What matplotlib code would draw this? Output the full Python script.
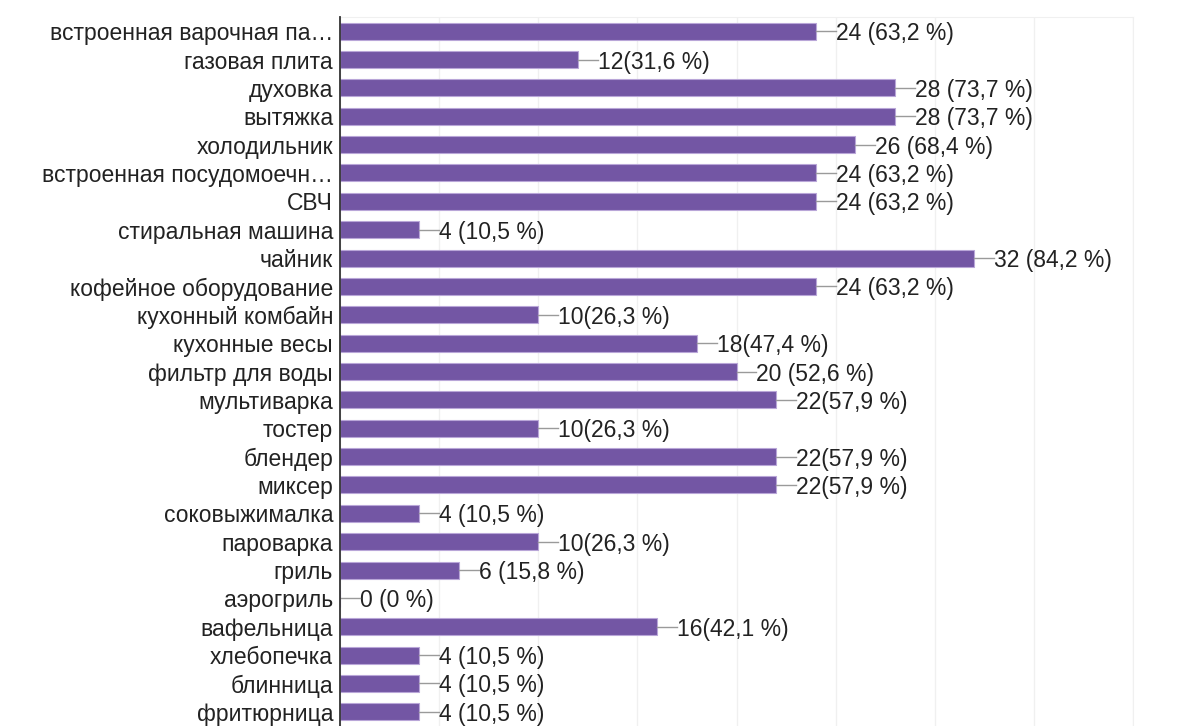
import numpy as np
import matplotlib
matplotlib.use("Agg")
import matplotlib.pyplot as plt

plt.rcParams['font.family'] = ['Liberation Sans', 'DejaVu Sans']

items = ["встроенная варочная па…", "газовая плита", "духовка", "вытяжка",
         "холодильник", "встроенная посудомоечн…", "СВЧ", "стиральная машина",
         "чайник", "кофейное оборудование", "кухонный комбайн", "кухонные весы",
         "фильтр для воды", "мультиварка", "тостер", "блендер", "миксер",
         "соковыжималка", "пароварка", "гриль", "аэрогриль", "вафельница",
         "хлебопечка", "блинница", "фритюрница"]
counts = [24, 12, 28, 28, 26, 24, 24, 4, 32, 24, 10, 18, 20, 22, 10, 22, 22,
          4, 10, 6, 0, 16, 4, 4, 4]
value_labels = ["24 (63,2 %)", "12(31,6 %)", "28 (73,7 %)", "28 (73,7 %)",
                "26 (68,4 %)", "24 (63,2 %)", "24 (63,2 %)", "4 (10,5 %)",
                "32 (84,2 %)", "24 (63,2 %)", "10(26,3 %)", "18(47,4 %)",
                "20 (52,6 %)", "22(57,9 %)", "10(26,3 %)", "22(57,9 %)",
                "22(57,9 %)", "4 (10,5 %)", "10(26,3 %)", "6 (15,8 %)",
                "0 (0 %)", "16(42,1 %)", "4 (10,5 %)", "4 (10,5 %)", "4 (10,5 %)"]

fig = plt.figure(figsize=(11.95, 7.26), dpi=100)
ax = fig.add_axes([340/1195, 0, (1133-340)/1195, 1 - 17/726])

y = np.arange(len(items))
ax.barh(y, counts, height=0.6, color='#7356a4', edgecolor='#b9a6d8',
        linewidth=0.8, zorder=3)

ax.set_xlim(0, 40)
ax.set_ylim(len(items) - 0.5, -0.5)
ax.set_xticks(np.arange(0, 41, 5))
ax.xaxis.grid(True, color='#f0f0f0', linewidth=1, zorder=0)
ax.tick_params(axis='x', length=0, labelbottom=False)
ax.tick_params(axis='y', length=0, pad=5)
ax.set_yticks(y)
ax.set_yticklabels(items, fontsize=16.5, color='#222222')
for t in ax.get_yticklabels():
    t.set_verticalalignment('center_baseline')

for s in ['top', 'right']:
    ax.spines[s].set_color('#f0f0f0')
ax.spines['bottom'].set_visible(False)
ax.spines['left'].set_color('#333333')
ax.spines['left'].set_linewidth(1.3)
ax.spines['left'].set_zorder(5)

for i, (c, lab) in enumerate(zip(counts, value_labels)):
    ax.plot([c, c + 1.0], [i, i], color='#9a9a9a', linewidth=1, zorder=4)
    ax.text(c + 1.0, i, lab, va='center_baseline', ha='left', fontsize=16.5,
            color='#222222')

fig.savefig("out.png", dpi=100)
